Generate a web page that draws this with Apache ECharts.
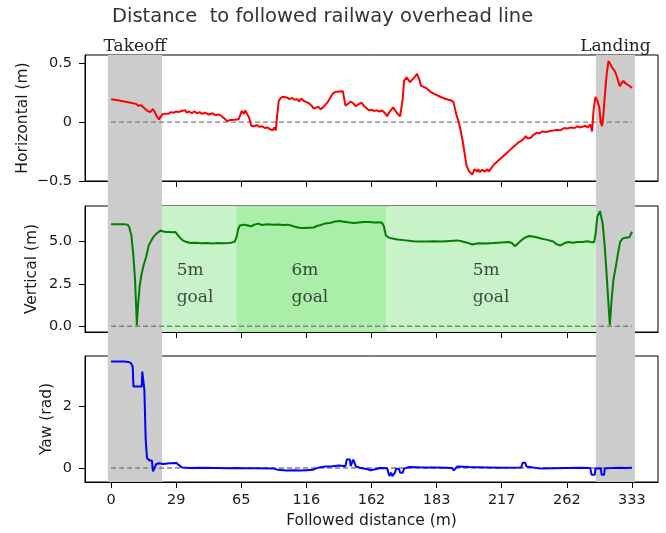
<!DOCTYPE html>
<html>
<head>
<meta charset="utf-8">
<script src="https://cdn.jsdelivr.net/npm/echarts@6/dist/echarts.min.js"></script>
<style>html,body{margin:0;padding:0;background:#fff;}#c{width:666px;height:533px;}</style>
</head>
<body>
<div id="c"></div>
<script>
// ---- data ----
const xTickValues = [0, 50, 100, 150, 200, 250, 300, 350, 400];
const xTickLabels = ['0', '29', '65', '116', '162', '183', '217', '262', '333'];

const hTickValues = [-0.5, 0, 0.5];
const hTickLabels = ['\u22120.5', '0', '0.5'];
const vTickValues = [0, 2.5, 5];
const vTickLabels = ['0.0', '2.5', '5.0'];
const yawTickValues = [0, 2];
const yawTickLabels = ['0', '2'];

const takeoffBand = [-2.5, 39.2];
const landingBand = [372.3, 402.3];
const goalStarts = [39.2, 96.2, 211.5];
const goalEnds = [96.2, 211.5, 372.3];
const goalNames = ['5m', '6m', '5m'];
const goalLabelX = [50.4, 138.6, 277.7];
const goalLabelY = [2.5, 2.5, 2.5];

const refX = [0, 400];
const refY = [0, 0];

const hX = [0,5,10,15,19,21,23,25,28,30,32,33.5,35,36.8,38,39.6,42,44,46,48,50,52,54,55,57,58,60,62,64,66,68,70,72,75,78,80,83,85,87,89,92,95,98,99.5,100.5,102,103,104.7,106,107.6,110,112,114,116,118,120,122,124,125.5,126.5,127.5,128.8,130,131.6,133,135,137,139,141,143,144.5,146,148,150,152,154,155.7,157,159,161,162.8,164,166,168,170,172,175,178,179,180,182,184,186,188,190,192.5,194,196,198,200,202,204,206,208,210,212,214,216.6,218,220,222,223,224,225,227,228,229.5,231,233,235,236.5,238,240,242,245,249,252,256,259,261,263,265,267.5,270,272,273,275,277.5,279,280,281,282,283,285,287,289,290,292,294,296,298,300,303,306,308,311,313,315,317,318.5,320,322.7,324,327,329,331,334,337,340,343,345,348,350,353,356,358,360,362,364,366,368,369.4,370.5,372,373.5,375,376,377,378,379,380.5,382,383,385,387,388,390.7,392,393.5,395,397,399,400];
const hY = [0.195,0.185,0.175,0.165,0.155,0.14,0.143,0.125,0.095,0.085,0.11,0.09,0.05,0.022,0.045,0.068,0.072,0.07,0.085,0.08,0.09,0.085,0.095,0.08,0.1,0.08,0.09,0.075,0.092,0.075,0.085,0.07,0.08,0.065,0.075,0.06,0.065,0.05,0.03,0.01,0.018,0.02,0.025,0.035,0.095,0.07,0.1,0.065,0.04,-0.03,-0.035,-0.025,-0.04,-0.035,-0.05,-0.045,-0.06,-0.07,-0.045,-0.07,0.05,0.18,0.2,0.215,0.2,0.21,0.195,0.205,0.19,0.195,0.175,0.2,0.18,0.17,0.16,0.14,0.115,0.12,0.13,0.11,0.125,0.13,0.165,0.2,0.24,0.255,0.26,0.262,0.255,0.14,0.155,0.175,0.16,0.135,0.15,0.165,0.14,0.12,0.1,0.105,0.095,0.1,0.09,0.1,0.08,0.05,0.09,0.125,0.11,0.07,0.05,0.035,0.2,0.35,0.38,0.39,0.34,0.33,0.38,0.41,0.37,0.31,0.3,0.29,0.26,0.235,0.22,0.2,0.19,0.185,0.17,0.07,-0.02,-0.16,-0.3,-0.37,-0.42,-0.445,-0.4,-0.39,-0.42,-0.4,-0.425,-0.405,-0.42,-0.4,-0.42,-0.39,-0.36,-0.34,-0.32,-0.3,-0.27,-0.24,-0.22,-0.19,-0.17,-0.16,-0.14,-0.12,-0.14,-0.13,-0.11,-0.09,-0.095,-0.08,-0.085,-0.075,-0.07,-0.065,-0.07,-0.05,-0.055,-0.045,-0.05,-0.035,-0.045,-0.04,-0.03,-0.045,-0.02,-0.08,0.1,0.215,0.18,0.12,0.0,-0.035,0.05,0.2,0.4,0.52,0.515,0.46,0.43,0.4,0.305,0.33,0.35,0.33,0.315,0.3,0.29];

const vX = [0,5,10,12.7,14,15.6,17,18.4,19.2,19.8,20.5,22,23.5,25,27,28.9,30.5,32.5,35,38.2,40,42.5,45,47,49.5,51,53,55,58,61,65,69,73.6,78,82,86,90.6,93,95,96.5,97.7,99,102,105,107.6,110,113,116,120,124.6,128,132,136,140,144.4,148,152,155.7,158,161,164,168,172,175.5,179,183,186.8,190,194,198,202,205,208,209.5,211,213,215,220,226.5,232,238,243,248,254,260,266,270,274,277.4,282,288,294,300,306,308,310,312,314,317,321,325,331,335,339.6,342,345,348,351,355,358,362,366,369,371,372,373.4,375.5,377.5,379,380,381.5,383,384.3,385.7,388,389.5,391,393,395,398,400];
const vY = [6.02,6.02,6.02,6.0,5.85,5.36,4.3,2.8,1.3,0.05,1.0,2.4,3.1,3.6,4.1,4.77,5.0,5.27,5.48,5.66,5.6,5.56,5.57,5.55,5.56,5.45,5.22,5.07,4.97,4.91,4.93,4.9,4.92,4.89,4.92,4.9,4.92,4.95,5.0,5.3,5.76,5.95,6.0,5.95,5.9,6.0,6.06,5.98,6.02,6.0,6.01,5.98,6.0,5.9,5.82,5.8,5.82,5.83,5.92,5.98,6.06,6.1,6.18,6.21,6.17,6.12,6.1,6.12,6.16,6.15,6.12,6.14,6.11,5.9,5.36,5.25,5.2,5.12,5.07,5.02,5.0,5.0,5.02,5.0,5.04,5.07,5.0,4.92,4.83,4.9,4.88,4.91,4.95,4.97,4.9,4.73,4.85,5.0,5.2,5.33,5.28,5.17,5.1,5.0,4.85,4.77,4.9,4.97,4.93,4.97,4.97,5.02,4.95,4.97,5.4,6.47,6.8,6.07,4.8,3.7,1.9,0.06,1.5,2.7,3.7,4.4,5.0,5.19,5.23,5.25,5.58];

const yawX = [0,5,10,13.3,15,16.6,17.2,20,23.6,24,24.6,25.3,25.6,26.6,27.6,29.6,31.4,32.2,33,34.8,37,40,45,50.4,52,54.3,60,70,80,90,96,100,110,125,128,135,140,145,150,155,157,160,165,170,175,180,181,183.5,184,186,187.5,188,191,197,199.6,201,206.7,212,213.7,215,216,218,219,221,222,224,225,229,240,250,262,263,264,266,275,290,300,315,316,318,319,320,330,340,350,360,368,369,371.4,372,376,376.8,378.6,379.2,385,390,395,400];
const yawY = [3.42,3.42,3.42,3.41,3.38,3.27,2.62,2.62,2.62,3.1,3.16,3.05,2.5,0.91,0.32,0.24,0.24,-0.11,-0.07,0.13,0.15,0.13,0.15,0.16,0.1,0.02,0.0,0.01,0.0,-0.01,0.0,-0.01,-0.01,-0.02,-0.06,-0.08,-0.07,-0.08,-0.07,-0.06,-0.02,0.02,0.05,0.06,0.08,0.06,0.27,0.27,0.06,0.27,0.27,0.05,0.01,-0.04,-0.07,-0.02,0.0,-0.01,-0.26,-0.15,-0.26,-0.15,-0.02,-0.03,-0.15,-0.15,-0.02,0.03,0.02,0.02,0.0,-0.08,-0.06,0.05,0.03,0.02,0.01,0.02,0.17,0.17,0.05,0.02,-0.02,-0.01,0.0,0.01,0.0,-0.22,-0.22,-0.02,-0.01,-0.22,-0.22,-0.01,0.0,0.01,0.0,0.01];

// ---- helpers ----
const zip = (xs, ys) => xs.map((x, i) => [x, ys[i]]);
const TXT = '#1a1a1a';
const SANS = 'DejaVu Sans';
const SERIF = 'DejaVu Serif';
const X_MIN = -20, X_MAX = 420;
const L = 85, R = 8;

function xAxisFor(gi, showLabels) {
  return {
    type: 'value', gridIndex: gi, min: X_MIN, max: X_MAX, position: 'bottom',
    axisLine: { show: true, onZero: false, lineStyle: { color: '#000', width: 1 } },
    splitLine: { show: false },
    axisTick: { show: true, inside: false, customValues: xTickValues, length: 6, lineStyle: { color: '#000', width: 1 } },
    axisLabel: {
      show: showLabels, customValues: xTickValues, margin: 11,
      fontFamily: SANS, fontSize: 14.5, color: TXT,
      formatter: v => xTickLabels[xTickValues.indexOf(v)]
    },
    name: showLabels ? 'Followed distance (m)' : '',
    nameLocation: 'middle', nameGap: 31, nameMoveOverlap: false,
    nameTextStyle: { fontFamily: SANS, fontSize: 15.5, color: TXT }
  };
}
function yAxisFor(gi, min, max, vals, labels, name, gap) {
  return {
    type: 'value', gridIndex: gi, min: min, max: max, position: 'left',
    axisLine: { show: true, onZero: false, lineStyle: { color: '#000', width: 1 } },
    splitLine: { show: false },
    axisTick: { show: true, inside: false, customValues: vals, length: 6, lineStyle: { color: '#000', width: 1 } },
    axisLabel: {
      customValues: vals, margin: 13, fontFamily: SANS, fontSize: 14.5, color: TXT,
      formatter: v => labels[vals.indexOf(v)]
    },
    name: name, nameLocation: 'middle', nameGap: gap, nameMoveOverlap: false,
    nameTextStyle: { fontFamily: SANS, fontSize: 15.5, color: TXT }
  };
}
function refLine(xi, yi) {
  return {
    type: 'line', xAxisIndex: xi, yAxisIndex: yi, data: zip(refX, refY),
    symbol: 'none', silent: true, z: 1,
    lineStyle: { color: '#808080', width: 1.3, type: [5, 3] }
  };
}
function dataLine(xi, yi, xs, ys, color) {
  return {
    type: 'line', xAxisIndex: xi, yAxisIndex: yi, data: zip(xs, ys),
    symbol: 'none', silent: true, z: 3,
    lineStyle: { color: color, width: 2 }
  };
}

const grayLabel = (t) => ({
  show: true, position: 'top', distance: 0, formatter: t,
  fontFamily: SERIF, fontSize: 17, color: '#222'
});

const goalAreas = goalStarts.map((s, i) => [
  { xAxis: s, itemStyle: { color: goalNames[i] === '6m' ? '#aaeeaa' : '#c8f2c8' } },
  { xAxis: goalEnds[i] }
]);

const goalPoints = goalLabelX.map((x, i) => ({ value: [x, goalLabelY[i]], name: goalNames[i] }));

const option = {
  animation: false,
  backgroundColor: '#fff',
  title: {
    text: 'Distance  to followed railway overhead line',
    left: 112, top: 7, padding: 0,
    textStyle: { fontFamily: SANS, fontSize: 19.5, fontWeight: 'normal', color: '#333' }
  },
  grid: [
    { left: L, right: R, top: 55, height: 427, show: false },
    { left: L, right: R, top: 55, height: 126, show: true, borderColor: '#000', borderWidth: 1, backgroundColor: 'transparent' },
    { left: L, right: R, top: 206, height: 126, show: true, borderColor: '#000', borderWidth: 1, backgroundColor: 'transparent' },
    { left: L, right: R, top: 356, height: 126, show: true, borderColor: '#000', borderWidth: 1, backgroundColor: 'transparent' }
  ],
  xAxis: [
    { type: 'value', gridIndex: 0, min: X_MIN, max: X_MAX, show: false },
    xAxisFor(1, false),
    xAxisFor(2, false),
    xAxisFor(3, true)
  ],
  yAxis: [
    { type: 'value', gridIndex: 0, min: 0, max: 1, show: false },
    yAxisFor(1, -0.5, 0.57, hTickValues, hTickLabels, 'Horizontal (m)', 54),
    yAxisFor(2, -0.34, 7.1, vTickValues, vTickLabels, 'Vertical (m)', 45),
    yAxisFor(3, -0.45, 3.6, yawTickValues, yawTickLabels, 'Yaw (rad)', 30)
  ],
  series: [
    {
      type: 'line', xAxisIndex: 0, yAxisIndex: 0, data: [], z: -1, silent: true,
      markArea: {
        silent: true,
        itemStyle: { color: '#cccccc' },
        data: [
          [{ xAxis: takeoffBand[0], label: grayLabel('Takeoff') }, { xAxis: takeoffBand[1] }],
          [{ xAxis: landingBand[0], label: grayLabel('Landing') }, { xAxis: landingBand[1] }]
        ]
      }
    },
    {
      type: 'line', xAxisIndex: 2, yAxisIndex: 2, data: [], z: -1, silent: true,
      markArea: { silent: true, data: goalAreas }
    },
    {
      type: 'scatter', xAxisIndex: 2, yAxisIndex: 2, data: goalPoints, symbolSize: 0, silent: true, z: 2,
      label: {
        show: true, position: 'right', distance: 0,
        formatter: p => '{a|' + p.name + '}\n{a|goal}',
        rich: { a: { align: 'left', fontFamily: SERIF, fontSize: 17, lineHeight: 27, color: '#1a1a1a' } }
      }
    },
    refLine(1, 1), refLine(2, 2), refLine(3, 3),
    dataLine(1, 1, hX, hY, '#ff0000'),
    dataLine(2, 2, vX, vY, '#008000'),
    dataLine(3, 3, yawX, yawY, '#0000ff')
  ]
};

const chart = echarts.init(document.getElementById('c'), null, { renderer: 'canvas' });
chart.setOption(option);
</script>
</body>
</html>
